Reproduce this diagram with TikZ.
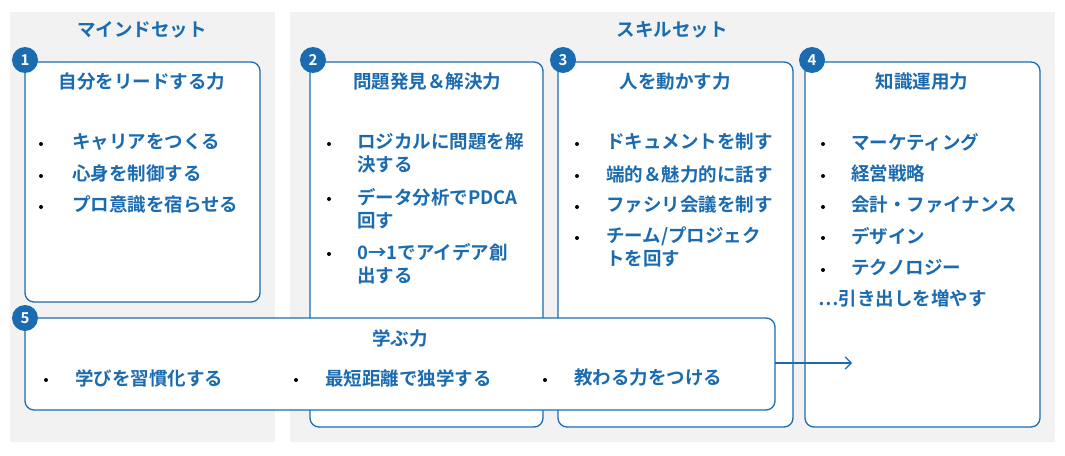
\documentclass[tikz,border=0pt]{standalone}
\usepackage{fontspec}
\setmainfont{Noto Sans CJK JP}[BoldFont={* Bold}]
\usetikzlibrary{positioning,arrows.meta}
\definecolor{skillblue}{HTML}{1B6BB0}
\definecolor{panelgray}{HTML}{F2F2F2}
\tikzset{
  panel/.style={fill=panelgray, draw=none},
  skillbox/.style={draw=skillblue, line width=1.3pt, fill=white, rounded corners=9pt},
  badge/.style={circle, fill=skillblue, text=white, minimum size=26pt, inner sep=0pt, font=\fontsize{15}{15}\selectfont\bfseries},
  head/.style={text=skillblue, font=\fontsize{18.5}{18.5}\selectfont\bfseries},
  item/.style={text=skillblue, anchor=north west, align=left, inner sep=0pt, font=\fontsize{18.5}{23}\selectfont\bfseries},
  dot/.style={circle, fill=black, minimum size=4pt, inner sep=0pt}
}
\begin{document}
\begin{tikzpicture}[x=1pt, y=-1pt]
  \useasboundingbox (0,0) rectangle (1065,455);
  % backgrounds
  \fill[panel] (10,12) rectangle (275,442);
  \fill[panel] (290,12) rectangle (1055,442);
  \node[head] (mind) at (142,30) {マインドセット};
  \node[head] (skill) at (672,30) {スキルセット};

  % boxes
  \draw[skillbox] (25,62) rectangle (260,302);
  \draw[skillbox] (310,62) rectangle (543,427);
  \draw[skillbox] (558,62) rectangle (793,427);
  \draw[skillbox] (805,62) rectangle (1040,427);
  \draw[skillbox] (25,318) rectangle (775,410);

  \node[badge] (b1) at (25,60) {1};
  \node[badge] (b2) at (313,60) {2};
  \node[badge] (b3) at (563,60) {3};
  \node[badge] (b4) at (812,60) {4};
  \node[badge] (b5) at (25,318) {5};

  \node[head] (t1) at (142,82) {自分をリードする力};
  \node[head] (t2) at (427,82) {問題発見＆解決力};
  \node[head] (t3) at (675,82) {人を動かす力};
  \node[head] (t4) at (922,82) {知識運用力};
  \node[head] (t5) at (400,338) {学ぶ力};

  % box 1
  \foreach \y/\txt in {144/キャリアをつくる, 176/心身を制御する, 207/プロ意識を宿らせる} {
    \node[dot] at (41,\y) {};
    \node[item] at (72,\y-11) {\txt};
  }
  % box 2
  \foreach \y/\txt in {144/{ロジカルに問題を解\\決する}, 199/{データ分析でPDCA\\回す}, 254/{0→1でアイデア創\\出する}} {
    \node[dot] at (329,\y) {};
    \node[item] at (357,\y-11) {\txt};
  }
  % box 3
  \foreach \y/\txt in {144/ドキュメントを制す, 176/端的＆魅力的に話す, 207/ファシリ会議を制す, 238/{チーム/プロジェク\\トを回す}} {
    \node[dot] at (577,\y) {};
    \node[item] at (606,\y-11) {\txt};
  }
  % box 4
  \foreach \y/\txt in {144/マーケティング, 176/経営戦略, 207/会計・ファイナンス, 238/デザイン, 270/テクノロジー} {
    \node[dot] at (823,\y) {};
    \node[item] at (851,\y-11) {\txt};
  }
  \node[item] (more) at (818,289) {…引き出しを増やす};
  % box 5
  \foreach \x/\txt in {46/学びを習慣化する, 296/最短距離で独学する, 545/教わる力をつける} {
    \node[dot] at (\x,380) {};
    \node[item] at (\x+29,369) {\txt};
  }
  \coordinate (out) at (775,363);
  \coordinate (tip) at (852,363);
  \draw[skillblue, line width=1.2pt, -{Straight Barb[length=6pt,width=12pt]}] (out) -- (tip);
\end{tikzpicture}
\end{document}
